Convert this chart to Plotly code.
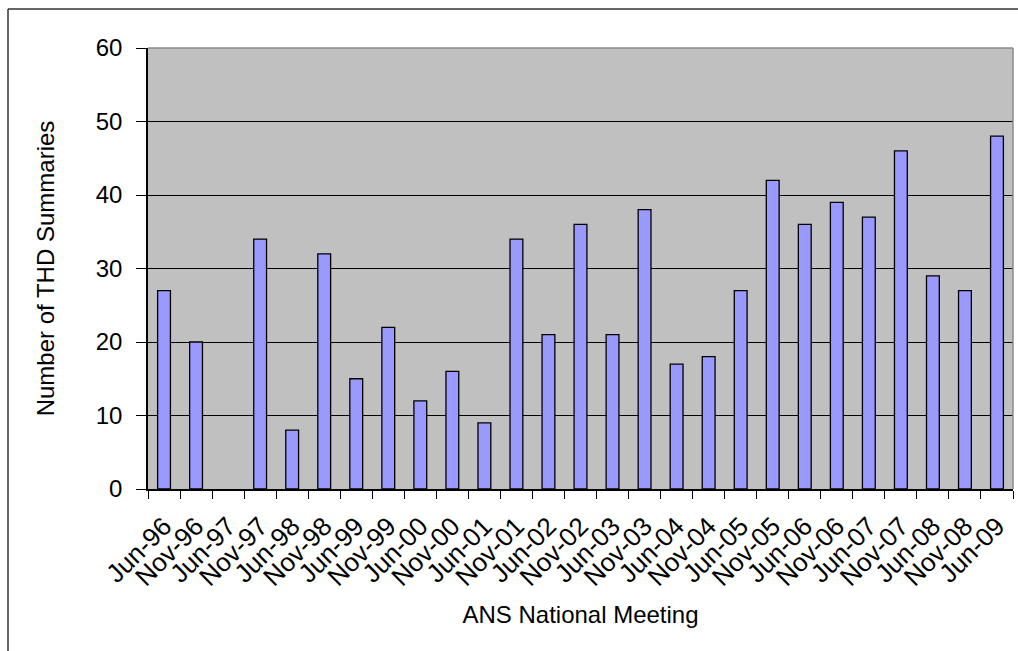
import plotly.graph_objects as go

categories = ["Jun-96", "Nov-96", "Jun-97", "Nov-97", "Jun-98", "Nov-98", "Jun-99", "Nov-99",
              "Jun-00", "Nov-00", "Jun-01", "Nov-01", "Jun-02", "Nov-02", "Jun-03", "Nov-03",
              "Jun-04", "Nov-04", "Jun-05", "Nov-05", "Jun-06", "Nov-06", "Jun-07", "Nov-07",
              "Jun-08", "Nov-08", "Jun-09"]
summaries = [27, 20, None, 34, 8, 32, 15, 22,
             12, 16, 9, 34, 21, 36, 21, 38,
             17, 18, 27, 42, 36, 39, 37, 46,
             29, 27, 48]
y_ticks = [0, 10, 20, 30, 40, 50, 60]

W, H = 1018, 651
L, R, T, B = 148, 5, 48, 162
pw, ph = W - L - R, H - T - B

def px_x(x):
    return (x - L) / pw

def px_y(y):
    return (H - B - y) / ph

font_family = "Liberation Sans, Arial, sans-serif"

fig = go.Figure()
fig.add_trace(go.Bar(
    x=categories, y=summaries,
    marker=dict(color="#9999FF", line=dict(color="#000000", width=1.3)),
    width=0.4,
))

shapes = [
    dict(type="line", xref="paper", yref="paper", x0=0, x1=1, y0=1, y1=1,
         line=dict(color="#8a8a8a", width=1.5), layer="above"),
    dict(type="line", xref="paper", yref="paper", x0=1, x1=1, y0=0, y1=1,
         line=dict(color="#8a8a8a", width=1.5), layer="above"),
    dict(type="line", xref="paper", yref="paper", x0=px_x(8), x1=px_x(1030),
         y0=px_y(9), y1=px_y(9), line=dict(color="#333333", width=1.5)),
    dict(type="line", xref="paper", yref="paper", x0=px_x(8), x1=px_x(8),
         y0=px_y(9), y1=px_y(670), line=dict(color="#333333", width=1.5)),
]

fig.update_layout(
    width=W, height=H,
    margin=dict(l=L, r=R, t=T, b=B, autoexpand=False),
    paper_bgcolor="white",
    plot_bgcolor="#C0C0C0",
    showlegend=False,
    bargap=0.6,
    font=dict(family=font_family, color="black", size=24),
    shapes=shapes,
)
fig.update_xaxes(
    type="category",
    tickangle=-45,
    ticks="outside", ticklen=8, tickcolor="black", tickwidth=1,
    tickson="boundaries",
    ticklabelstandoff=10,
    showline=True, linecolor="black", linewidth=1.5,
    showgrid=False,
    tickfont=dict(size=26),
    title=dict(text="ANS National Meeting", font=dict(size=24), standoff=16),
    automargin=False,
)
fig.update_yaxes(
    range=[0, 60], tickvals=y_ticks,
    ticks="outside", ticklen=10, tickcolor="black", tickwidth=1,
    ticklabelstandoff=9,
    showline=True, linecolor="black", linewidth=1.5,
    showgrid=True, gridcolor="black", gridwidth=1,
    zeroline=False,
    tickfont=dict(size=24),
    title=dict(text="Number of THD Summaries", font=dict(size=24), standoff=34),
    automargin=False,
)

fig.write_html("out.html", config={"displayModeBar": False},
               post_script="document.body.style.margin='0';document.body.style.padding='0';")
